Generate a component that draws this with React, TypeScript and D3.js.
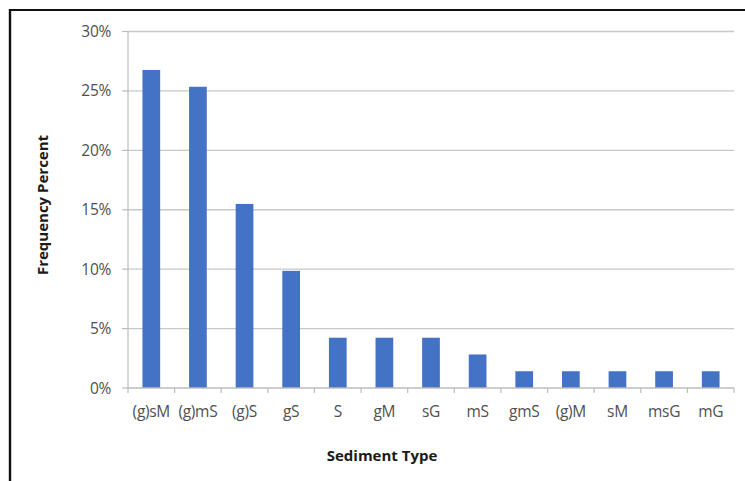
import React from "react";
import * as d3 from "d3";

const categories = ["(g)sM", "(g)mS", "(g)S", "gS", "S", "gM", "sG", "mS", "gmS", "(g)M", "sM", "msG", "mG"];
const frequencyPercent = [26.76, 25.35, 15.49, 9.86, 4.23, 4.23, 4.23, 2.82, 1.41, 1.41, 1.41, 1.41, 1.41];
const yTicks = [0, 5, 10, 15, 20, 25, 30];
const yTitle = "Frequency Percent";
const xTitle = "Sediment Type";

const W = 745;
const H = 481;
const M = { left: 128, right: 734, top: 31.5, bottom: 388 };
const FONT = "'Open Sans', 'Liberation Sans', sans-serif";

export default function App() {
  const x = d3.scaleBand<string>().domain(categories).range([M.left, M.right]).paddingInner(0.62).paddingOuter(0.31);
  const xb = d3.scaleBand<string>().domain(categories).range([M.left, M.right]);
  const y = d3.scaleLinear().domain([0, 30]).range([M.bottom, M.top]);
  const boundaries = categories.map((c) => xb(c) as number).concat([M.right]);

  return (
    <svg width={W} height={H} style={{ position: "absolute", left: 0, top: 0, background: "#fff" }} fontFamily={FONT}>
      <rect x={0} y={0} width={W} height={H} fill="#fff" />
      <line x1={10} y1={10} x2={W} y2={10} stroke="#111" strokeWidth={2} />
      <line x1={10} y1={9} x2={10} y2={H} stroke="#111" strokeWidth={2.4} />
      {yTicks.map((t) => (
        <g key={t}>
          {t > 0 && <line x1={M.left} x2={M.right} y1={y(t)} y2={y(t)} stroke="#c8c8c8" strokeWidth={1.3} />}
          <line x1={M.left - 6} x2={M.left} y1={y(t)} y2={y(t)} stroke="#bdbdbd" strokeWidth={1.2} />
          <text x={111} y={y(t)} dy="0.36em" textAnchor="end" fontSize={15.5} letterSpacing={-0.3} fill="#4f4f4f">{t}%</text>
        </g>
      ))}
      {categories.map((c, i) => (
        <rect key={c} x={x(c)} y={y(frequencyPercent[i])} width={x.bandwidth()} height={y(0) - y(frequencyPercent[i])} fill="#4472c4" />
      ))}
      <line x1={M.left} x2={M.left} y1={M.top} y2={M.bottom} stroke="#bdbdbd" strokeWidth={1.2} />
      <line x1={M.left} x2={M.right} y1={M.bottom} y2={M.bottom} stroke="#bdbdbd" strokeWidth={1.3} />
      {boundaries.map((b, i) => (
        <line key={i} x1={b} x2={b} y1={M.bottom} y2={M.bottom + 5} stroke="#bdbdbd" strokeWidth={1.2} />
      ))}
      {categories.map((c) => (
        <text key={c} x={(xb(c) as number) + xb.bandwidth() / 2} y={411} dy="0.36em" textAnchor="middle" fontSize={15.5} letterSpacing={-0.3} fill="#4f4f4f">{c}</text>
      ))}
      <text transform={`translate(43,205) rotate(-90)`} dy="0.36em" textAnchor="middle" fontSize={15} fontWeight="bold" fill="#1a1a1a">{yTitle}</text>
      <text x={382} y={456} dy="0.36em" textAnchor="middle" fontSize={15} fontWeight="bold" fill="#1a1a1a">{xTitle}</text>
    </svg>
  );
}
